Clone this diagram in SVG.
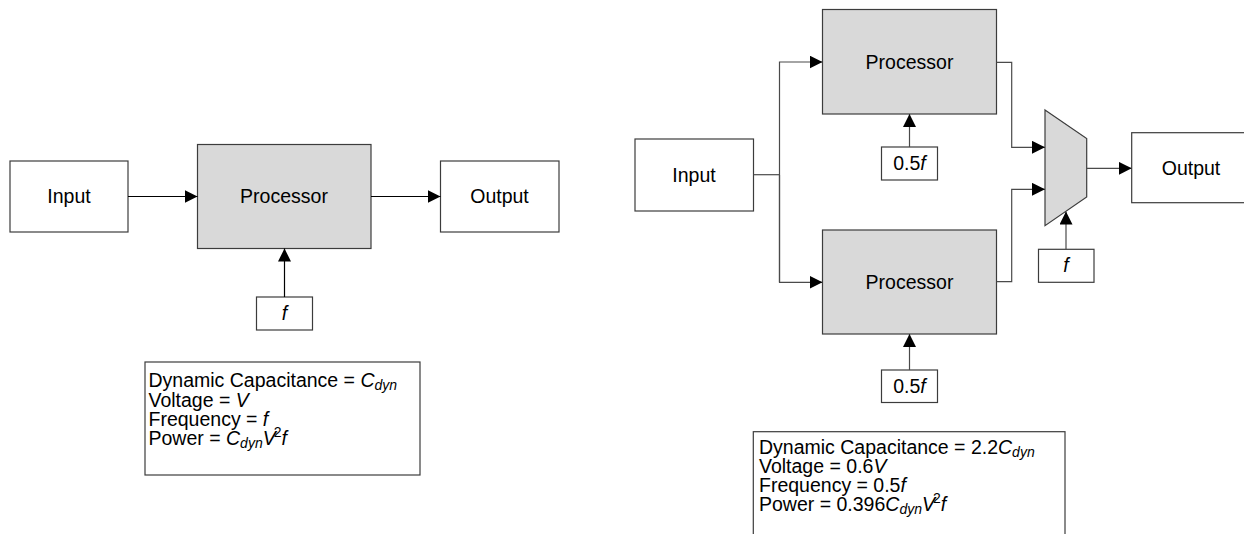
<svg xmlns="http://www.w3.org/2000/svg" width="1244" height="534" viewBox="0 0 1244 534">
  <style>
    .box { fill: #ffffff; stroke: #3c3c3c; stroke-width: 1.2; }
    .proc { fill: #d9d9d9; stroke: #3c3c3c; stroke-width: 1.2; }
    .lbl { font-family: "Liberation Sans", Arial, sans-serif; font-size: 19.5px; fill: #000; text-anchor: middle; }
    .frm { font-family: "Liberation Sans", Arial, sans-serif; font-size: 19.5px; fill: #000; }
    .it { font-style: italic; }
    .sm { font-size: 14px; }
    .wire { fill: none; stroke: #000; stroke-width: 1.2; }
    .wire2 { fill: none; stroke: #4a4a4a; stroke-width: 1.2; }
  </style>
  <defs>
    <marker id="arr" markerUnits="userSpaceOnUse" markerWidth="14" markerHeight="13" refX="13" refY="6.5" orient="auto">
      <path d="M0,0 L13,6.5 L0,13 Z" fill="#000"/>
    </marker>
  </defs>

  <rect width="1244" height="534" fill="#ffffff"/>

  <!-- Left diagram -->
  <g id="input-left">
    <rect class="box" x="10" y="161" width="118" height="71"/>
    <text class="lbl" x="69" y="203">Input</text>
  </g>
  <g id="processor-left">
    <rect class="proc" x="197.5" y="144.5" width="173.5" height="104"/>
    <text class="lbl" x="284" y="203">Processor</text>
  </g>
  <g id="output-left">
    <rect class="box" x="440.5" y="161" width="118.5" height="71"/>
    <text class="lbl" x="499.5" y="203">Output</text>
  </g>
  <g id="freq-left">
    <rect class="box" x="256.5" y="297" width="56" height="33"/>
    <text class="lbl it" x="284.5" y="320">f</text>
  </g>
  <g id="formula-left">
    <rect class="box" x="145" y="362" width="275" height="113"/>
    <text class="frm" x="148.5" y="387">Dynamic Capacitance = <tspan class="it">C</tspan><tspan class="it sm" dy="3">dyn</tspan></text>
    <text class="frm" x="148.5" y="406.5">Voltage = <tspan class="it">V</tspan></text>
    <text class="frm" x="148.5" y="426">Frequency = <tspan class="it">f</tspan></text>
    <text class="frm" x="148.5" y="445">Power = <tspan class="it">C</tspan><tspan class="it sm" dy="3">dyn</tspan><tspan class="it" dy="-3">V</tspan><tspan class="sm" dy="-8" dx="-2">2</tspan><tspan class="it" dy="8">f</tspan></text>
  </g>

  <!-- Right diagram -->
  <g id="input-right">
    <rect class="box" x="635" y="139" width="118.5" height="72"/>
    <text class="lbl" x="694" y="182">Input</text>
  </g>
  <g id="processor-top">
    <rect class="proc" x="822.5" y="9.5" width="174" height="104.5"/>
    <text class="lbl" x="909.5" y="69">Processor</text>
  </g>
  <g id="freq-top">
    <rect class="box" x="881.5" y="147" width="56" height="33"/>
    <text class="lbl" x="909.5" y="170">0.5<tspan class="it">f</tspan></text>
  </g>
  <g id="processor-bottom">
    <rect class="proc" x="822.5" y="230" width="174" height="104"/>
    <text class="lbl" x="909.5" y="289">Processor</text>
  </g>
  <g id="freq-bottom">
    <rect class="box" x="881.5" y="370" width="56" height="32.5"/>
    <text class="lbl" x="909.5" y="393">0.5<tspan class="it">f</tspan></text>
  </g>
  <g id="mux">
    <polygon class="proc" points="1045,110 1086.7,138.5 1086.7,197 1045,225.7"/>
  </g>
  <g id="freq-mux">
    <rect class="box" x="1038.5" y="249.3" width="55.5" height="33"/>
    <text class="lbl it" x="1066" y="272">f</text>
  </g>
  <g id="output-right">
    <rect class="box" x="1131.7" y="132.7" width="119" height="70"/>
    <text class="lbl" x="1191" y="175">Output</text>
  </g>
  <g id="formula-right">
    <rect class="box" x="753.3" y="431.7" width="311.7" height="113"/>
    <text class="frm" x="759" y="453.5">Dynamic Capacitance = 2.2<tspan class="it">C</tspan><tspan class="it sm" dy="3">dyn</tspan></text>
    <text class="frm" x="759" y="472.5">Voltage = 0.6<tspan class="it">V</tspan></text>
    <text class="frm" x="759" y="491.5">Frequency = 0.5<tspan class="it">f</tspan></text>
    <text class="frm" x="759" y="511">Power = 0.396<tspan class="it">C</tspan><tspan class="it sm" dy="3">dyn</tspan><tspan class="it" dy="-3">V</tspan><tspan class="sm" dy="-8" dx="-2">2</tspan><tspan class="it" dy="8">f</tspan></text>
  </g>

  <!-- Connectors -->
  <g id="connectors">
    <line class="wire" x1="128" y1="196.5" x2="197.5" y2="196.5" marker-end="url(#arr)"/>
    <line class="wire" x1="371" y1="196.5" x2="440.5" y2="196.5" marker-end="url(#arr)"/>
    <line class="wire" x1="284.5" y1="297" x2="284.5" y2="248.5" marker-end="url(#arr)"/>

    <polyline class="wire2" points="753.5,174.7 779.5,174.7"/>
    <polyline class="wire2" points="779.5,282.3 779.5,62 822.5,62" marker-end="url(#arr)"/>
    <polyline class="wire2" points="779.5,174.7 779.5,282.3 822.5,282.3" marker-end="url(#arr)"/>
    <line class="wire2" x1="909.5" y1="147" x2="909.5" y2="114" marker-end="url(#arr)"/>
    <line class="wire2" x1="909.5" y1="370" x2="909.5" y2="334" marker-end="url(#arr)"/>
    <polyline class="wire2" points="996.5,62.3 1011.7,62.3 1011.7,147.3 1045,147.3" marker-end="url(#arr)"/>
    <polyline class="wire2" points="996.5,281.7 1011.7,281.7 1011.7,189.3 1045,189.3" marker-end="url(#arr)"/>
    <line class="wire2" x1="1086.7" y1="168.3" x2="1131.7" y2="168.3" marker-end="url(#arr)"/>
    <line class="wire2" x1="1066" y1="249.3" x2="1066" y2="211.5" marker-end="url(#arr)"/>
  </g>
</svg>
